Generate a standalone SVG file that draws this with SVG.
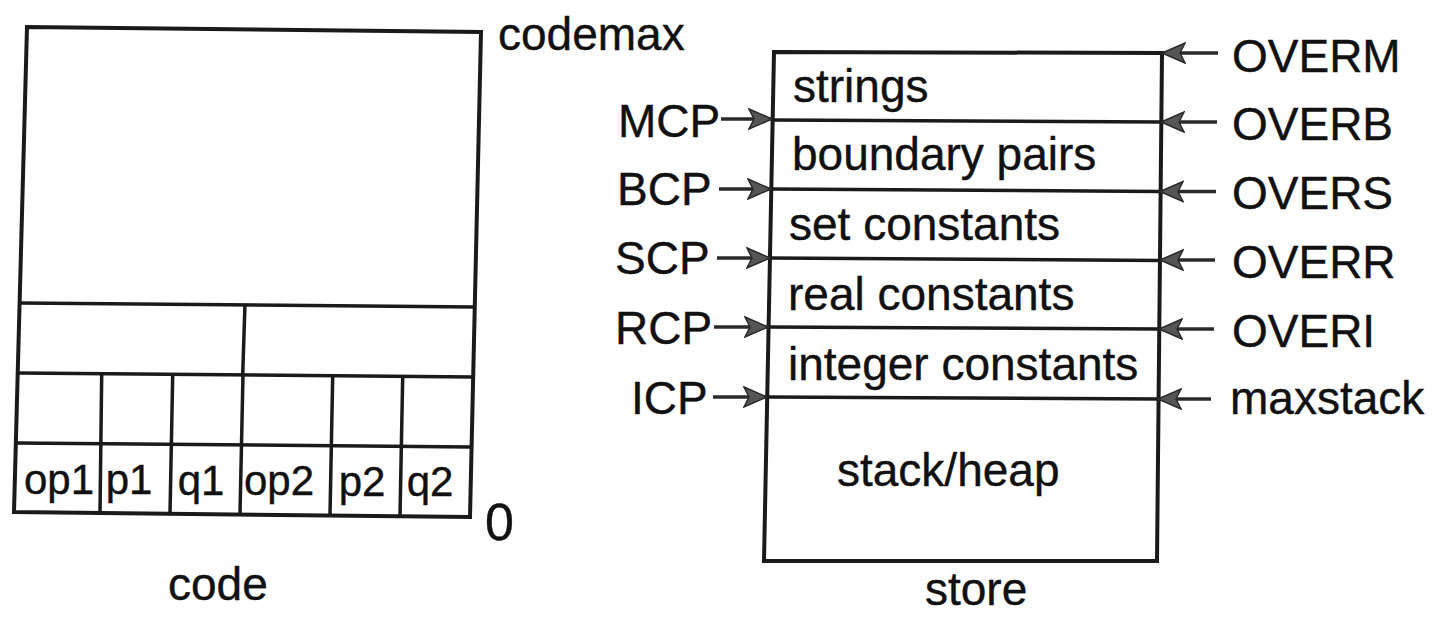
<svg xmlns="http://www.w3.org/2000/svg" width="1439" height="618" viewBox="0 0 1439 618">
  <style>
    .frame { fill: none; stroke: #1a1a1a; stroke-width: 4; stroke-linejoin: miter; stroke-linecap: square; }
    .rule { fill: none; stroke: #1a1a1a; stroke-width: 3.5; }
    .wire { fill: none; stroke: #2a2a2a; stroke-width: 3.5; }
    .lbl { font-family: "Liberation Sans", Arial, Helvetica, sans-serif; font-size: 46px; fill: #111; stroke: #111; stroke-width: 0.4; }
    .cell { font-family: "Liberation Sans", Arial, Helvetica, sans-serif; font-size: 42px; fill: #111; stroke: #111; stroke-width: 0.4; text-anchor: middle; }
  </style>
  <defs>
    <marker id="head" markerUnits="userSpaceOnUse" markerWidth="28" markerHeight="24" refX="24" refY="11" orient="auto">
      <path d="M1,1 L24,11 L1,21 L6,11 Z" fill="#555555" stroke="#2a2a2a" stroke-width="1.5"/>
    </marker>
  </defs>
  <rect width="1439" height="618" fill="#ffffff"/>

  <!-- code area -->
  <g id="code">
    <path class="frame" d="M27,27 L481,32 L470,517 L14,512 Z"/>
    <path class="rule" d="M19.6,303 L474.8,307"/>
    <path class="rule" d="M17.7,373 L473.2,377"/>
    <path class="rule" d="M15.8,443 L471.6,447"/>
    <!-- half-word split -->
    <path class="rule" d="M245,304 L242.7,375"/>
    <!-- field splits -->
    <path class="rule" d="M101.7,374 L100,513"/>
    <path class="rule" d="M172.7,375 L170,514"/>
    <path class="rule" d="M243,375 L240,514"/>
    <path class="rule" d="M332.7,376 L330,515"/>
    <path class="rule" d="M402.7,377 L400,516"/>
    <text class="cell" x="59" y="494">op1</text>
    <text class="cell" x="129" y="494">p1</text>
    <text class="cell" x="201" y="495">q1</text>
    <text class="cell" x="279" y="495">op2</text>
    <text class="cell" x="362" y="496">p2</text>
    <text class="cell" x="430" y="496">q2</text>
  </g>
  <g id="code-labels">
    <text class="lbl" x="498" y="50">codemax</text>
    <text class="lbl" x="485" y="540" style="font-size:52px">0</text>
    <text class="lbl" x="168" y="600">code</text>
  </g>

  <!-- store area -->
  <g id="store">
    <path class="frame" d="M774,52 L1162,53 L1157,561 L764,561 Z"/>
    <path class="rule" d="M772.6,120 L1161.3,122"/>
    <path class="rule" d="M771.3,189 L1160.6,191.5"/>
    <path class="rule" d="M769.9,258 L1159.9,260.5"/>
    <path class="rule" d="M768.5,327 L1159.3,329"/>
    <path class="rule" d="M767.1,397 L1158.6,399"/>
    <text class="lbl" x="793" y="102">strings</text>
    <text class="lbl" x="792" y="170">boundary pairs</text>
    <text class="lbl" x="789" y="240">set constants</text>
    <text class="lbl" x="788" y="310">real constants</text>
    <text class="lbl" x="788" y="380">integer constants</text>
    <text class="lbl" x="837" y="486">stack/heap</text>
  </g>
  <g id="store-label">
    <text class="lbl" x="925" y="605">store</text>
  </g>

  <!-- pointer names -->
  <g id="pointers-left">
    <text class="lbl" x="618" y="137">MCP</text>
    <text class="lbl" x="617" y="205">BCP</text>
    <text class="lbl" x="615" y="274">SCP</text>
    <text class="lbl" x="615" y="344">RCP</text>
    <text class="lbl" x="631" y="414">ICP</text>
  </g>
  <g id="pointers-right">
    <text class="lbl" x="1232" y="72">OVERM</text>
    <text class="lbl" x="1232" y="140">OVERB</text>
    <text class="lbl" x="1232" y="209">OVERS</text>
    <text class="lbl" x="1232" y="278">OVERR</text>
    <text class="lbl" x="1232" y="347">OVERI</text>
    <text class="lbl" x="1230" y="414">maxstack</text>
  </g>

  <!-- pointer arrows -->
  <g id="connectors">
    <path class="wire" d="M721,119 L772,119" marker-end="url(#head)"/>
    <path class="wire" d="M719,189 L771,189" marker-end="url(#head)"/>
    <path class="wire" d="M717,258 L770,258" marker-end="url(#head)"/>
    <path class="wire" d="M714,327 L768,327" marker-end="url(#head)"/>
    <path class="wire" d="M713,397 L767,397" marker-end="url(#head)"/>
    <path class="wire" d="M1218,53 L1162,53" marker-end="url(#head)"/>
    <path class="wire" d="M1217,122 L1161,122" marker-end="url(#head)"/>
    <path class="wire" d="M1216,191.5 L1160,191.5" marker-end="url(#head)"/>
    <path class="wire" d="M1215,260 L1160,260" marker-end="url(#head)"/>
    <path class="wire" d="M1214,329 L1159,329" marker-end="url(#head)"/>
    <path class="wire" d="M1211,399 L1158,399" marker-end="url(#head)"/>
  </g>
</svg>
